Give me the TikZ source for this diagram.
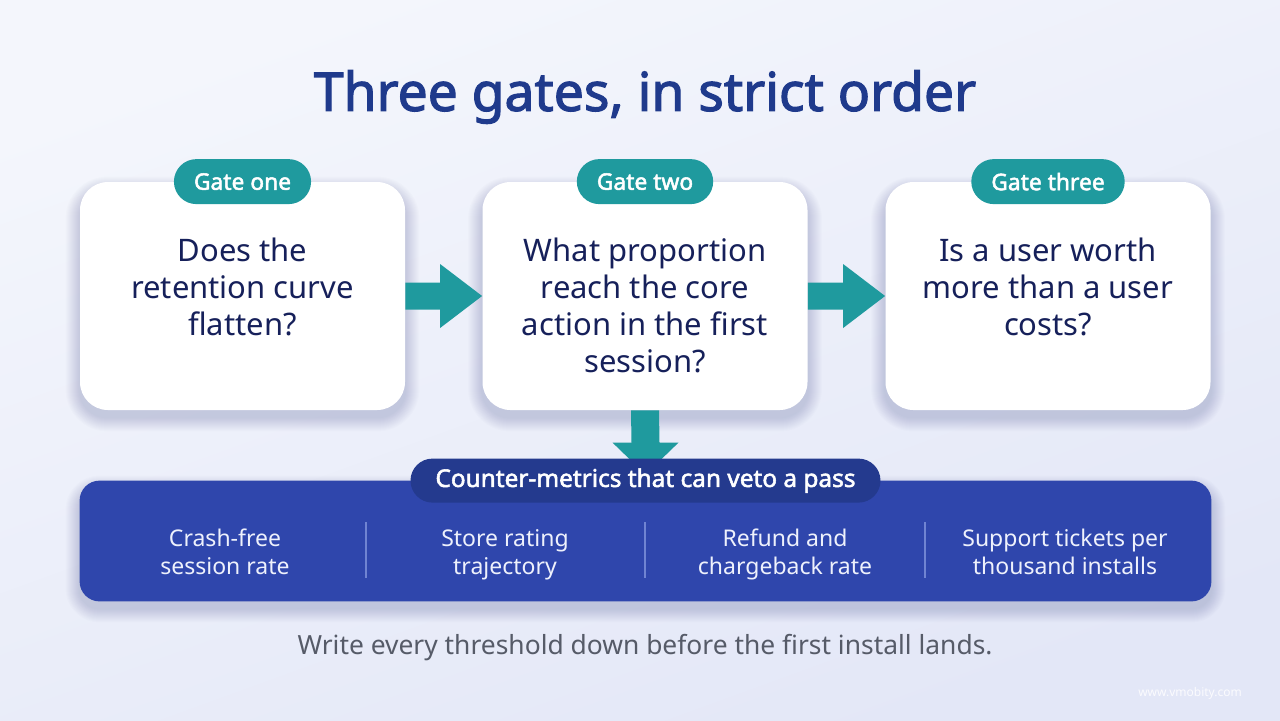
\documentclass[tikz,border=0pt]{standalone}
\usepackage{fontspec}
\setmainfont{Noto Sans}[BoldFont={Noto Sans}, BoldFeatures={FakeBold=2.2}]
\usetikzlibrary{calc,positioning}
\definecolor{bgA}{HTML}{F4F6FC}
\definecolor{bgB}{HTML}{E3E7F7}
\definecolor{titleblue}{HTML}{1F3A8C}
\definecolor{gateteal}{HTML}{1F9A9E}
\definecolor{qtext}{HTML}{16205A}
\definecolor{panelblue}{HTML}{2F46AC}
\definecolor{vetoblue}{HTML}{243A8E}
\definecolor{sepline}{HTML}{7084D2}
\definecolor{foottext}{HTML}{565B68}
\definecolor{coltextc}{HTML}{EEF1FC}
\definecolor{shadowc}{HTML}{1A2350}
\tikzset{
  gatebox/.style={draw=none, fill=white, rounded corners=14pt, minimum width=162.5pt, minimum height=114pt},
  gatepill/.style={fill=gateteal, text=white, rounded corners=11.25pt, minimum height=22.5pt, inner xsep=10pt, inner ysep=0pt,
    font=\fontsize{11.4}{13}\selectfont\bfseries},
  qtextstyle/.style={text=qtext, align=center, anchor=north, inner sep=0pt, font=\fontsize{15.5}{18.5}\selectfont},
  coltext/.style={text=coltextc, align=center, anchor=north, inner sep=0pt, font=\fontsize{11.5}{14}\selectfont},
  flowarrow/.style={fill=gateteal},
  sep/.style={draw=sepline, line width=0.6pt},
  shadowlayer/.style={fill=shadowc, fill opacity=0.011}
}
\begin{document}
\begin{tikzpicture}[x=0.5pt,y=-0.5pt]
\useasboundingbox (0,0) rectangle (1280,720);
\shade[top color=bgA, bottom color=bgB, shading angle=20] (0,0) rectangle (1280,720);

\node[text=titleblue, font=\fontsize{26.7}{31}\selectfont\bfseries] (title) at (645,97) {Three gates, in strict order};

% boxes (coordinates first for shadows)
\path (242.5,296) node[gatebox, fill=none] (b1) {};
\path (645,296) node[gatebox, fill=none] (b2) {};
\path (1048,296) node[gatebox, fill=none] (b3) {};
\path (645.5,541) node[minimum width=565.5pt, minimum height=60pt, inner sep=0pt] (panel) {};

% soft shadows
\foreach \n/\r in {b1/14,b2/14,b3/14,panel/10}{
  \foreach \i in {1,...,14}{
    \pgfmathsetmacro{\rc}{\r+0.5*\i}
    \fill[shadowlayer, rounded corners=\rc pt] ($(\n.south west)+(-\i,\i+7)$) rectangle ($(\n.north east)+(\i,-\i+9)$);
  }
}

\node[gatebox] at (b1) {};
\node[gatebox] at (b2) {};
\node[gatebox] at (b3) {};

% arrows between boxes
\fill[flowarrow] ($(b1.east)+(0,-13.5)$) -- ($(b2.west)+(-42,-13.5)$) -- ($(b2.west)+(-42,-32)$) -- (b2.west)
  -- ($(b2.west)+(-42,32)$) -- ($(b2.west)+(-42,13.5)$) -- ($(b1.east)+(0,13.5)$) -- cycle;
\fill[flowarrow] ($(b2.east)+(0,-13.5)$) -- ($(b3.west)+(-42,-13.5)$) -- ($(b3.west)+(-42,-32)$) -- (b3.west)
  -- ($(b3.west)+(-42,32)$) -- ($(b3.west)+(-42,13.5)$) -- ($(b2.east)+(0,13.5)$) -- cycle;

% panel
\fill[panelblue, rounded corners=10pt] (panel.south west) rectangle (panel.north east);

% down arrow from gate two
\coordinate (dtip) at ($(panel.north)+(0,-6)$);
\fill[flowarrow] ($(b2.south)+(-14,0)$) -- ($(dtip)+(-14,-32)$) -- ($(dtip)+(-33,-32)$) -- (dtip)
  -- ($(dtip)+(33,-32)$) -- ($(dtip)+(14,-32)$) -- ($(b2.south)+(14,0)$) -- cycle;

\node[fill=vetoblue, text=white, rounded corners=11pt, minimum width=235pt, minimum height=22pt, inner sep=0pt,
  font=\fontsize{12.2}{14}\selectfont\bfseries] (veto) at (panel.north) {Counter-metrics that can veto a pass};

% pills
\node[gatepill] (p1) at (b1.north) {Gate one};
\node[gatepill] (p2) at (b2.north) {Gate two};
\node[gatepill] (p3) at (b3.north) {Gate three};

% questions
\node[qtextstyle] (q1) at ($(b1.north)+(0,54)$) {\strut Does the\\retention curve\\flatten?};
\node[qtextstyle] (q2) at ($(b2.north)+(0,54)$) {\strut What proportion\\reach the core\\action in the first\\session?};
\node[qtextstyle] (q3) at ($(b3.north)+(0,54)$) {\strut Is a user worth\\more than a user\\costs?};

% columns
\node[coltext] (c1) at (225,526) {\strut Crash-free\\session rate};
\node[coltext] (c2) at (505,526) {\strut Store rating\\trajectory};
\node[coltext] (c3) at (785,526) {\strut Refund and\\chargeback rate};
\node[coltext] (c4) at (1065,526) {\strut Support tickets per\\thousand installs};
\draw[sep] (366,522) -- (366,578);
\draw[sep] (645,522) -- (645,578);
\draw[sep] (925,522) -- (925,578);

\node[text=foottext, font=\fontsize{13.2}{15}\selectfont] (foot) at (645,648) {Write every threshold down before the first install lands.};
\node[text=white!85!bgB, font=\fontsize{6}{7}\selectfont] (wm) at (1190,693) {www.vmobity.com};
\end{tikzpicture}
\end{document}
